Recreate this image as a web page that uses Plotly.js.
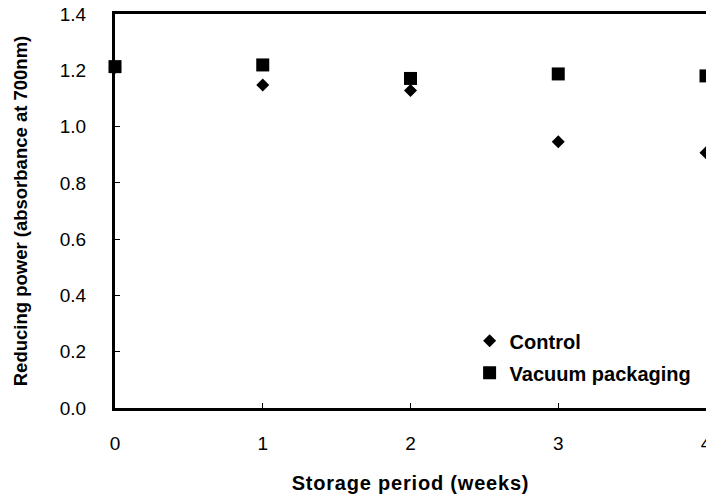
<!DOCTYPE html>
<html>
<head>
<meta charset="utf-8">
<script src="https://cdn.plot.ly/plotly-3.0.1.min.js"></script>
<style>
html,body{margin:0;padding:0;overflow:hidden;background:#fff;}
#chart{width:706px;height:497px;}
#chart .xtitle{letter-spacing:0.8px;}
</style>
</head>
<body>
<div id="chart"></div>
<script>
var weeks = [0, 1, 2, 3, 4];
var controlValues = [1.21, 1.148, 1.128, 0.946, 0.907];
var vacuumValues = [1.213, 1.219, 1.171, 1.187, 1.18];
var seriesNames = ['Control', 'Vacuum packaging'];
var xTickText = ['0', '1', '2', '3', '4'];
var yTickVals = [0, 0.2, 0.4, 0.6, 0.8, 1.0, 1.2, 1.4];
var yTickText = ['0.0', '0.2', '0.4', '0.6', '0.8', '1.0', '1.2', '1.4'];

var FONT = 'Arial, "Liberation Sans", Helvetica, sans-serif';

var traces = [
  {
    x: weeks, y: controlValues, name: seriesNames[0], type: 'scatter', mode: 'markers',
    marker: {symbol: 'diamond', size: 10, color: '#000'},
    cliponaxis: false, legendgroup: 'a'
  },
  {
    x: weeks, y: vacuumValues, name: seriesNames[1], type: 'scatter', mode: 'markers',
    marker: {symbol: 'square', size: 13, color: '#000'},
    cliponaxis: false, legendgroup: 'b'
  }
];

var layout = {
  width: 706, height: 497,
  margin: {l: 115, r: 0, t: 14, b: 89, pad: 0},
  paper_bgcolor: '#fff', plot_bgcolor: '#fff',
  font: {family: FONT, color: '#000', size: 19},
  showlegend: true,
  legend: {
    x: 0.6, y: 0.22, xanchor: 'left', yanchor: 'top',
    bgcolor: 'rgba(0,0,0,0)', borderwidth: 0,
    font: {family: FONT, size: 20, color: '#000', weight: 'bold'},
    tracegroupgap: 3, traceorder: 'grouped', itemwidth: 30
  },
  xaxis: {
    range: [0, 4], tickvals: weeks, ticktext: xTickText,
    showgrid: false, zeroline: false,
    showline: true, linecolor: '#000', linewidth: 3, mirror: true,
    ticks: 'inside', ticklen: 5, tickwidth: 1, tickcolor: '#000',
    tickfont: {family: FONT, size: 19, color: '#000'},
    ticklabelstandoff: 16, ticklabeloverflow: 'allow',
    title: {text: 'Storage period (weeks)', font: {family: FONT, size: 20, color: '#000', weight: 'bold'}, standoff: 24}
  },
  yaxis: {
    range: [0, 1.4], tickvals: yTickVals, ticktext: yTickText,
    showgrid: false, zeroline: false,
    showline: true, linecolor: '#000', linewidth: 3, mirror: false,
    ticks: 'inside', ticklen: 5, tickwidth: 1, tickcolor: '#000',
    tickfont: {family: FONT, size: 19, color: '#000'},
    ticklabelstandoff: 22,
    title: {text: 'Reducing power (absorbance at 700nm)', font: {family: FONT, size: 18.5, color: '#000', weight: 'bold'}, standoff: 28}
  }
};

Plotly.newPlot('chart', traces, layout, {displayModeBar: false, staticPlot: true});
</script>
</body>
</html>
